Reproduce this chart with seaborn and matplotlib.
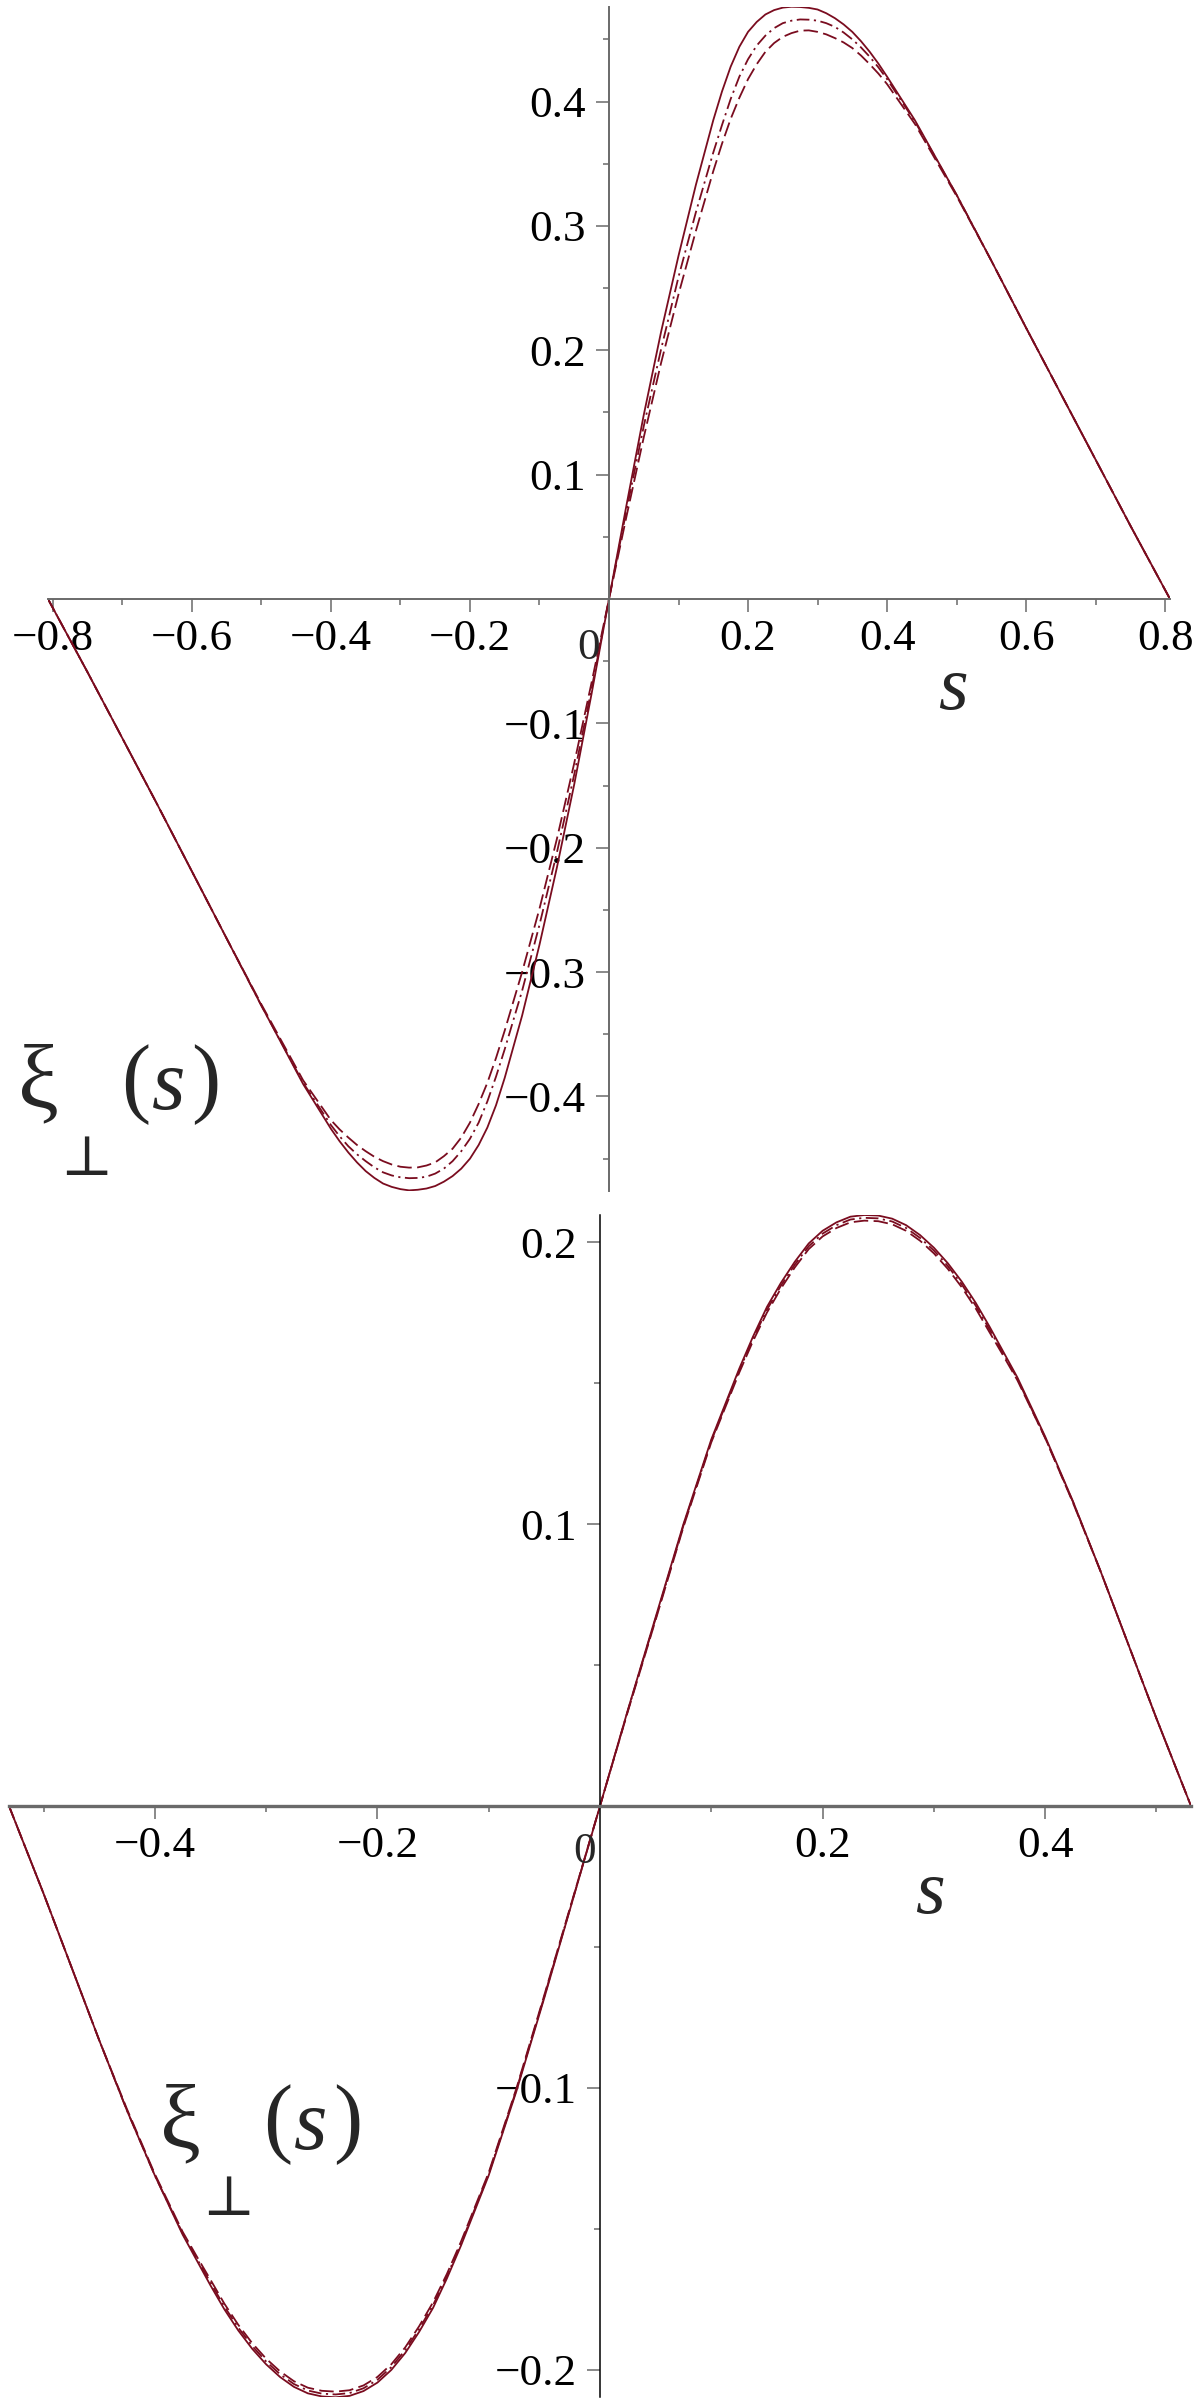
import matplotlib
matplotlib.use('Agg')
import matplotlib.pyplot as plt
import seaborn as sns
import pandas as pd

W, H = 1200, 2406
LINE_COLOR = '#7a0c1f'
AXIS_GREY = '#6a6a6a'

# ---- top panel data ----
s_top = [-0.807, -0.75, -0.70, -0.65, -0.60, -0.55, -0.50, -0.44, -0.40, -0.3875,
         -0.375, -0.3625, -0.35, -0.3375, -0.325, -0.3125, -0.30, -0.2875, -0.275, -0.2625,
         -0.25, -0.2375, -0.225, -0.2125, -0.20, -0.1875, -0.175, -0.1625, -0.15, -0.125,
         -0.10, -0.075, -0.05, -0.025, 0.0,
         0.025, 0.05, 0.075, 0.10, 0.125,
         0.15, 0.1625, 0.175, 0.1875, 0.20, 0.2125, 0.225, 0.2375, 0.25, 0.2625,
         0.275, 0.2875, 0.30, 0.3125, 0.325, 0.3375, 0.35, 0.3625, 0.375, 0.3875, 0.40,
         0.44, 0.50, 0.55, 0.60, 0.65, 0.70, 0.75, 0.807]
xi_top_solid = [0.0, -0.059, -0.112, -0.165, -0.219, -0.273, -0.327, -0.390, -0.426, -0.436,
                -0.445, -0.453, -0.460, -0.4655, -0.470, -0.4727, -0.4745, -0.4755, -0.475, -0.474,
                -0.472, -0.4685, -0.464, -0.458, -0.450, -0.439, -0.425, -0.407, -0.385, -0.335,
                -0.278, -0.216, -0.149, -0.076, 0.0,
                0.075, 0.148, 0.215, 0.276, 0.333,
                0.385, 0.408, 0.428, 0.444, 0.456, 0.464, 0.470, 0.4735, 0.4755, 0.4762,
                0.476, 0.4753, 0.474, 0.471, 0.467, 0.462, 0.456, 0.4485, 0.440, 0.4305, 0.420,
                0.385, 0.325, 0.272, 0.218, 0.165, 0.112, 0.059, 0.0]
xi_top_dashdot = [0.0, -0.059, -0.112, -0.165, -0.219, -0.273, -0.327, -0.389, -0.423, -0.432,
                  -0.440, -0.4465, -0.452, -0.457, -0.461, -0.4635, -0.465, -0.4657, -0.4655, -0.4645,
                  -0.462, -0.458, -0.452, -0.444, -0.434, -0.421, -0.404, -0.384, -0.362, -0.315,
                  -0.262, -0.204, -0.141, -0.072, 0.0,
                  0.071, 0.139, 0.201, 0.259, 0.311,
                  0.359, 0.381, 0.402, 0.420, 0.434, 0.445, 0.453, 0.459, 0.463, 0.465,
                  0.466, 0.4658, 0.465, 0.463, 0.460, 0.4555, 0.450, 0.4435, 0.436, 0.4275, 0.418,
                  0.384, 0.325, 0.272, 0.218, 0.165, 0.112, 0.059, 0.0]
xi_top_dashed = [0.0, -0.059, -0.112, -0.165, -0.219, -0.273, -0.326, -0.387, -0.419, -0.4265,
                 -0.433, -0.439, -0.444, -0.4485, -0.452, -0.4547, -0.4565, -0.4572, -0.457, -0.4555,
                 -0.453, -0.448, -0.442, -0.433, -0.421, -0.406, -0.389, -0.369, -0.347, -0.300,
                 -0.249, -0.193, -0.132, -0.067, 0.0,
                 0.066, 0.130, 0.190, 0.245, 0.296,
                 0.344, 0.366, 0.386, 0.403, 0.418, 0.430, 0.440, 0.447, 0.452, 0.455,
                 0.457, 0.4572, 0.456, 0.454, 0.451, 0.4475, 0.443, 0.437, 0.430, 0.4225, 0.414,
                 0.382, 0.324, 0.272, 0.218, 0.165, 0.112, 0.059, 0.0]

# ---- bottom panel data ----
s_bot = [-0.531, -0.50, -0.475, -0.45, -0.425, -0.40, -0.375, -0.3625, -0.35, -0.3375,
         -0.325, -0.3125, -0.30, -0.2875, -0.275, -0.2625, -0.25, -0.2375, -0.225, -0.2125,
         -0.20, -0.1875, -0.175, -0.1625, -0.15, -0.1375, -0.125, -0.10, -0.075, -0.05,
         -0.025, 0.0,
         0.025, 0.05, 0.075, 0.10,
         0.125, 0.1375, 0.15, 0.1625, 0.175, 0.1875, 0.20, 0.2125, 0.225, 0.2375,
         0.25, 0.2625, 0.275, 0.2875, 0.30, 0.3125, 0.325, 0.3375, 0.35, 0.3625, 0.375,
         0.40, 0.425, 0.45, 0.475, 0.50, 0.531]
xi_bot_solid = [0.0, -0.031, -0.057, -0.083, -0.108, -0.131, -0.152, -0.161, -0.170, -0.1785,
                -0.186, -0.1925, -0.198, -0.2025, -0.206, -0.2083, -0.2094, -0.2097, -0.2092, -0.2075,
                -0.2045, -0.200, -0.194, -0.1865, -0.178, -0.1675, -0.156, -0.131, -0.101, -0.068,
                -0.034, 0.0,
                0.034, 0.067, 0.100, 0.130,
                0.155, 0.1665, 0.177, 0.1855, 0.193, 0.1995, 0.204, 0.207, 0.209, 0.2096,
                0.2094, 0.2083, 0.206, 0.2025, 0.198, 0.1925, 0.186, 0.1785, 0.170, 0.161, 0.152,
                0.131, 0.108, 0.083, 0.057, 0.031, 0.0]
xi_bot_dashdot = [0.0, -0.031, -0.057, -0.083, -0.108, -0.131, -0.1515, -0.1603, -0.169, -0.1775,
                  -0.185, -0.1915, -0.197, -0.2015, -0.205, -0.2073, -0.2084, -0.2087, -0.2082, -0.2065,
                  -0.2035, -0.199, -0.193, -0.1855, -0.177, -0.1667, -0.1553, -0.1305, -0.1005, -0.0675,
                  -0.0338, 0.0,
                  0.0338, 0.0665, 0.0995, 0.1295,
                  0.1543, 0.1657, 0.176, 0.1845, 0.192, 0.1985, 0.203, 0.206, 0.208, 0.2086,
                  0.2084, 0.2073, 0.205, 0.2015, 0.197, 0.1915, 0.185, 0.1775, 0.169, 0.1603, 0.1515,
                  0.1305, 0.1078, 0.083, 0.057, 0.031, 0.0]
xi_bot_dashed = [0.0, -0.031, -0.057, -0.083, -0.1075, -0.1305, -0.151, -0.1596, -0.168, -0.1765,
                 -0.184, -0.1905, -0.196, -0.2005, -0.204, -0.2063, -0.2074, -0.2077, -0.2072, -0.2055,
                 -0.2025, -0.198, -0.192, -0.1845, -0.176, -0.1659, -0.1546, -0.130, -0.100, -0.067,
                 -0.0335, 0.0,
                 0.0335, 0.066, 0.099, 0.129,
                 0.1536, 0.1649, 0.175, 0.1835, 0.191, 0.1975, 0.202, 0.205, 0.207, 0.2076,
                 0.2074, 0.2063, 0.204, 0.2005, 0.196, 0.1905, 0.184, 0.1765, 0.168, 0.1596, 0.151,
                 0.1305, 0.1075, 0.083, 0.057, 0.031, 0.0]

top_xticks = [-0.8, -0.6, -0.4, -0.2, 0.2, 0.4, 0.6, 0.8]
top_xminor = [-0.7, -0.5, -0.3, -0.1, 0.1, 0.3, 0.5, 0.7]
top_yticks = [-0.4, -0.3, -0.2, -0.1, 0.1, 0.2, 0.3, 0.4]
top_yminor = [-0.45, -0.35, -0.25, -0.15, -0.05, 0.05, 0.15, 0.25, 0.35, 0.45]
bot_xticks = [-0.4, -0.2, 0.2, 0.4]
bot_xminor = [-0.5, -0.3, -0.1, 0.1, 0.3, 0.5]
bot_yticks = [-0.2, -0.1, 0.1, 0.2]
bot_yminor = [-0.15, -0.05, 0.05, 0.15]

sns.set_theme(style='white')
plt.rcParams['font.family'] = ['Liberation Serif', 'DejaVu Serif']

fig = plt.figure(figsize=(W / 100, H / 100), dpi=100)


def px_rect(x0, y0, x1, y1):
    return [x0 / W, 1 - y1 / H, (x1 - x0) / W, (y1 - y0) / H]


def px(x, y):
    return x / W, 1 - y / H


STYLES = [('solid', '-'), ('dashdot', (0, (7, 2.5, 1.2, 2.5))), ('dashed', (0, (8, 3)))]


def fmt(v):
    return f'{v:g}'.replace('-', '\u2212')


def draw_panel(ax, s, series, xlim, ylim, xt, xm, yt, ym, xaxis_lw, yaxis_color, yaxis_lw):
    df = pd.DataFrame({'s': s})
    for (name, ls), vals in zip(STYLES, series):
        df[name] = vals
        sns.lineplot(data=df, x='s', y=name, ax=ax, color=LINE_COLOR, linestyle=ls,
                     linewidth=1.3, sort=False, estimator=None)
    ax.set_xlim(*xlim)
    ax.set_ylim(*ylim)
    ax.set_xlabel('')
    ax.set_ylabel('')
    for side in ['top', 'right']:
        ax.spines[side].set_visible(False)
    ax.spines['left'].set_position(('data', 0))
    ax.spines['bottom'].set_position(('data', 0))
    ax.spines['bottom'].set_color(AXIS_GREY)
    ax.spines['bottom'].set_linewidth(xaxis_lw)
    ax.spines['left'].set_color(yaxis_color)
    ax.spines['left'].set_linewidth(yaxis_lw)
    ax.set_xticks(xt)
    ax.set_xticklabels([fmt(v) for v in xt])
    ax.set_xticks(xm, minor=True)
    ax.set_yticks(yt)
    ax.set_yticklabels([fmt(v) for v in yt])
    ax.set_yticks(ym, minor=True)
    ax.tick_params(which='major', direction='out', length=9.5, width=1.1, color=AXIS_GREY,
                   labelsize=32.5, labelcolor='black')
    ax.tick_params(which='minor', direction='out', length=4.5, width=1.1, color=AXIS_GREY)
    ax.tick_params(axis='x', which='major', pad=5, bottom=True)
    ax.tick_params(axis='x', which='minor', bottom=True)
    ax.tick_params(axis='y', which='major', pad=7, left=True)
    ax.tick_params(axis='y', which='minor', left=True)
    ax.patch.set_alpha(0)
    ax.grid(False)


# top panel
ax1 = fig.add_axes(px_rect(48, 7, 1170, 1191))
draw_panel(ax1, s_top, [xi_top_solid, xi_top_dashdot, xi_top_dashed],
           (-0.807, 0.807), (-0.476, 0.476),
           top_xticks, top_xminor, top_yticks, top_yminor, 1.4, AXIS_GREY, 1.4)

# bottom panel
ax2 = fig.add_axes(px_rect(9, 1215, 1191, 2397))
draw_panel(ax2, s_bot, [xi_bot_solid, xi_bot_dashdot, xi_bot_dashed],
           (-0.531, 0.531), (-0.2096, 0.2096),
           bot_xticks, bot_xminor, bot_yticks, bot_yminor, 2.4, 'black', 1.1)

# origin "0" labels and axis titles
for (zx, zy) in [(589, 648), (585, 1852)]:
    fig.text(*px(zx, zy), '0', fontsize=32.5, ha='center', va='center')

for (sx, sy) in [(953, 690), (930, 1895)]:
    fig.text(*px(sx, sy), 's', fontsize=55, style='italic', ha='center', va='center')

for (bx, by) in [(38, 1085), (180, 2125)]:
    fig.text(*px(bx, by), '\u03be', fontsize=66, ha='center', va='center')
    fig.text(*px(bx + 48, by + 75), '\u22a5', fontsize=40, style='italic',
             family=['DejaVu Serif', 'DejaVu Sans'], ha='center', va='center')
    fig.text(*px(bx + 98, by), '(', fontsize=63, ha='center', va='center')
    fig.text(*px(bx + 131, by + 3), 's', fontsize=62, style='italic', ha='center', va='center')
    fig.text(*px(bx + 168, by), ')', fontsize=63, ha='center', va='center')

fig.savefig('out.png', dpi=100)
plt.close(fig)
